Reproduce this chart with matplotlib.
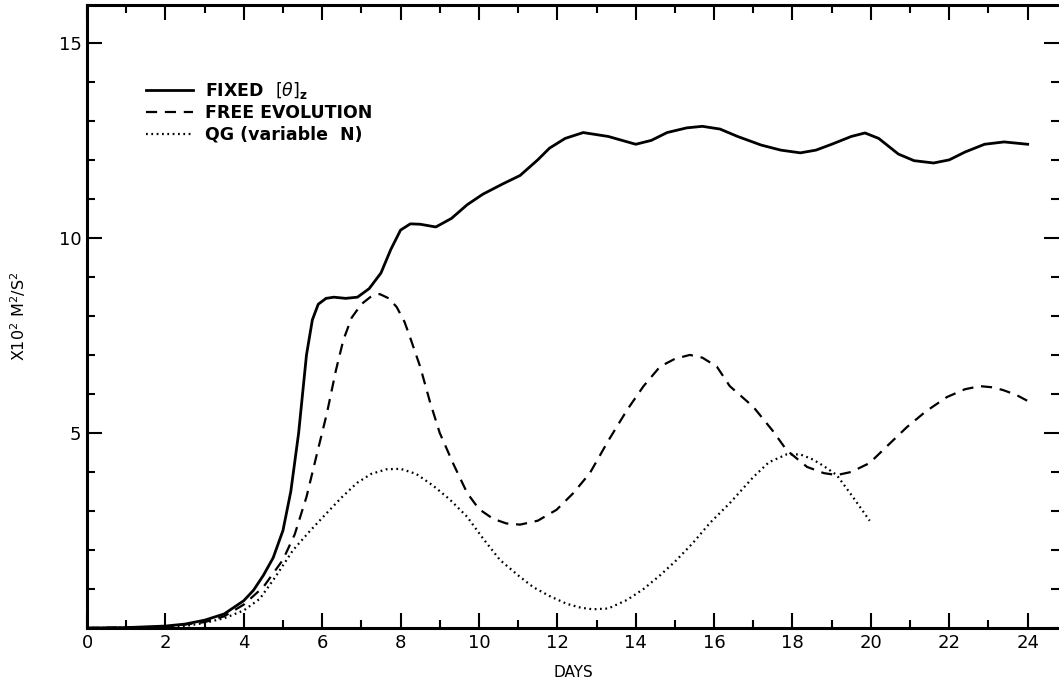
import numpy as np
import matplotlib
matplotlib.use('Agg')
import matplotlib.pyplot as plt
from matplotlib.ticker import MultipleLocator

# FIXED [theta]_z (solid)
days_fixed = [0, 1, 2, 2.5, 3, 3.5, 4, 4.25, 4.5, 4.75, 5, 5.2, 5.4, 5.6, 5.75, 5.9,
              6.1, 6.3, 6.6, 6.9, 7.2, 7.5, 7.75, 8.0, 8.25, 8.5, 8.9, 9.3, 9.7, 10.1,
              10.6, 11.05, 11.5, 11.8, 12.2, 12.66, 13.3, 14.0, 14.4, 14.8, 15.3, 15.7,
              16.15, 16.6, 17.2, 17.7, 18.2, 18.6, 19.0, 19.5, 19.85, 20.2, 20.7, 21.1,
              21.6, 22.0, 22.4, 22.9, 23.4, 24.0]
fixed = [0, 0.01, 0.05, 0.1, 0.2, 0.36, 0.7, 0.97, 1.35, 1.8, 2.5, 3.5, 5.0, 7.0, 7.9, 8.3,
         8.45, 8.48, 8.45, 8.48, 8.7, 9.1, 9.7, 10.2, 10.36, 10.35, 10.28, 10.5, 10.85, 11.12,
         11.38, 11.6, 12.0, 12.3, 12.55, 12.7, 12.6, 12.4, 12.5, 12.7, 12.82, 12.86,
         12.79, 12.6, 12.38, 12.25, 12.18, 12.25, 12.4, 12.6, 12.69, 12.55, 12.15, 11.98,
         11.92, 12.0, 12.2, 12.4, 12.46, 12.4]

# FREE EVOLUTION (dashed)
days_free = [0, 2, 3, 3.5, 4, 4.5, 5, 5.3, 5.6, 5.9, 6.12, 6.35, 6.54, 6.75, 7.0, 7.25,
             7.47, 7.7, 7.9, 8.1, 8.24, 8.5, 8.75, 9.0, 9.35, 9.7, 10.0, 10.36, 10.7, 11.05,
             11.5, 11.98, 12.4, 12.83, 13.3, 13.78, 14.2, 14.62, 15.0, 15.38, 15.7, 16.07,
             16.4, 17.0, 17.5, 17.85, 18.37, 18.8, 19.13, 19.5, 19.97, 20.4, 20.92, 21.4,
             21.94, 22.4, 22.78, 23.1, 23.37, 23.7, 24.0]
free = [0, 0.03, 0.15, 0.3, 0.6, 1.05, 1.75, 2.4, 3.36, 4.6, 5.5, 6.6, 7.38, 7.95, 8.3, 8.5,
        8.56, 8.45, 8.23, 7.85, 7.46, 6.7, 5.8, 5.0, 4.2, 3.46, 3.05, 2.8, 2.68, 2.65,
        2.75, 3.03, 3.45, 3.97, 4.8, 5.59, 6.2, 6.7, 6.9, 7.0, 6.93, 6.7,
        6.2, 5.67, 5.05, 4.56, 4.13, 3.97, 3.92, 4.0, 4.23, 4.65, 5.15, 5.55,
        5.92, 6.12, 6.2, 6.17, 6.1, 5.98, 5.82]

# QG (variable N) (dotted)
days_qg = [0, 2, 2.5, 3, 3.5, 4.0, 4.41, 4.8, 5.26, 5.7, 6.12, 6.5, 6.89, 7.25, 7.65, 8.0,
           8.4, 8.83, 9.25, 9.7, 10.1, 10.54, 11.0, 11.38, 11.8, 12.24, 12.6, 12.9, 13.3,
           13.78, 14.2, 14.62, 15.0, 15.46, 15.9, 16.4, 17.0, 17.4, 17.85, 18.2, 18.52,
           18.8, 19.13, 19.54, 19.97]
qg = [0, 0.02, 0.05, 0.13, 0.25, 0.45, 0.75, 1.3, 2.0, 2.5, 2.95, 3.35, 3.72, 3.95, 4.07, 4.08,
      3.95, 3.65, 3.3, 2.85, 2.3, 1.74, 1.35, 1.05, 0.82, 0.62, 0.52, 0.48, 0.5,
      0.72, 1.0, 1.35, 1.7, 2.18, 2.7, 3.2, 3.87, 4.25, 4.45, 4.45, 4.32,
      4.15, 3.92, 3.36, 2.75]

fig = plt.figure(figsize=(10.59, 7.0), dpi=100)
ax = fig.add_axes([87/1059, 72/700, 1 - 87/1059, 623/700])

ax.plot(days_fixed, fixed, color='k', lw=2.0, label=r'FIXED  $[\theta]_\mathbf{z}$')
ax.plot(days_free, free, color='k', lw=1.6, dashes=(5, 3.5), label='FREE EVOLUTION')
ax.plot(days_qg, qg, color='k', lw=1.6, dashes=(0.8, 1.6), label='QG (variable  N)')

ax.set_xlim(0, 24.8)
ax.set_ylim(0, 15.97)
ax.xaxis.set_major_locator(MultipleLocator(2))
ax.xaxis.set_minor_locator(MultipleLocator(1))
ax.yaxis.set_major_locator(MultipleLocator(5))
ax.yaxis.set_minor_locator(MultipleLocator(1))
ax.set_yticks([5, 10, 15])
ax.tick_params(which='both', direction='in', top=True, right=True, width=1.5,
               labelsize=13, pad=4)
ax.tick_params(which='major', length=11)
ax.tick_params(which='minor', length=6)

ax.spines['right'].set_visible(False)
for s in ['left', 'bottom', 'top']:
    ax.spines[s].set_linewidth(2.2)

ax.set_xlabel('DAYS', fontsize=11, labelpad=10)
ax.set_ylabel(r'X10$^2$ M$^2$/S$^2$', fontsize=11.5, labelpad=22)

leg = ax.legend(loc='upper left', bbox_to_anchor=(0.045, 0.905), frameon=False,
                handlelength=2.7, handletextpad=0.7, labelspacing=0.2,
                prop={'size': 12.5, 'weight': 'bold'})

plt.savefig('out.png', dpi=100)
